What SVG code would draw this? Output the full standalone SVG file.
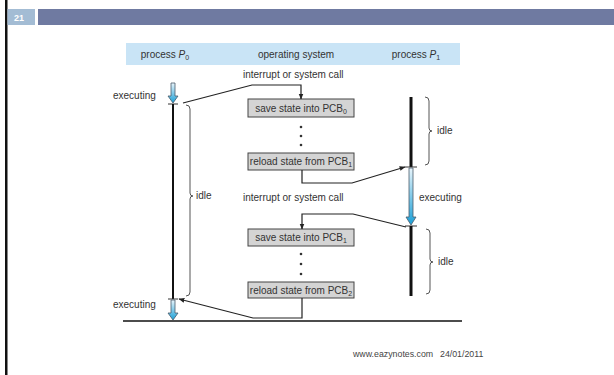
<svg xmlns="http://www.w3.org/2000/svg" width="614" height="375" viewBox="0 0 614 375">
<style>
  text { font-family: "Liberation Sans", Arial, sans-serif; font-size: 10px; fill: #333; }
  .hdr { fill: #333; }
  .box rect { fill: #d4d4d4; stroke: #444; stroke-width: 1; }
  .box text { text-anchor: middle; }
  .conn { fill: none; stroke: #222; stroke-width: 1.2; }
  .brace { fill: none; stroke: #555; stroke-width: 1; }
  .barrow { fill: url(#bg); stroke: #4a5a6a; stroke-width: 0.8; }
  .tick { stroke: #333; stroke-width: 1; }
  .dot { fill: #333; }
  .foot { font-size: 8.8px; fill: #444; }
</style>
<defs>
  <linearGradient id="bg" x1="0" y1="0" x2="0" y2="1">
    <stop offset="0" stop-color="#e8f4fb"/>
    <stop offset="1" stop-color="#1a9fd6"/>
  </linearGradient>
  <marker id="ah" viewBox="0 0 10 10" refX="9" refY="5" markerWidth="6" markerHeight="6" orient="auto" markerUnits="userSpaceOnUse">
    <path d="M0,1 L10,5 L0,9 Z" fill="#222"/>
  </marker>
</defs>
<rect width="614" height="375" fill="#ffffff"/>
<!-- slide chrome -->
<rect x="5" y="0" width="2.5" height="375" fill="#111"/>
<rect x="7.5" y="9" width="27.5" height="16" fill="#a3bcd4"/>
<text x="14" y="21" style="font-size:9px;font-weight:bold;fill:#ffffff">21</text>
<rect x="38" y="9" width="576" height="16" fill="#6f7aa1"/>
<!-- column header band -->
<rect x="126" y="43" width="334" height="22" fill="#c9e4f6"/>
<text class="hdr" x="165" y="58" text-anchor="middle">process <tspan font-style="italic">P</tspan><tspan font-size="7" dy="2">0</tspan></text>
<text class="hdr" x="296" y="58" text-anchor="middle">operating system</text>
<text class="hdr" x="416" y="58" text-anchor="middle">process <tspan font-style="italic">P</tspan><tspan font-size="7" dy="2">1</tspan></text>
<!-- labels -->
<text x="243" y="78">interrupt or system call</text>
<text x="243" y="201">interrupt or system call</text>
<text x="113" y="99">executing</text>
<text x="113" y="308">executing</text>
<text x="419" y="201">executing</text>
<!-- process P0 -->
<g id="p0">
  <path class="barrow" d="M171,83 H175 V96 H178 L173,103 L168,96 H171 Z"/>
  <line class="tick" x1="168" y1="104" x2="178" y2="104"/>
  <line x1="173" y1="104" x2="173" y2="299" stroke="#111" stroke-width="2"/>
  <line class="tick" x1="168" y1="299" x2="178" y2="299"/>
  <path class="barrow" d="M171,300 H175 V313 H178 L173,320 L168,313 H171 Z"/>
  <path class="brace" d="M186,105 Q190,105 190,109 V193 Q190,196 193,196 Q190,196 190,199 V292 Q190,296 186,296"/>
  <text x="196" y="199">idle</text>
</g>
<!-- process P1 -->
<g id="p1">
  <line x1="411" y1="97" x2="411" y2="167" stroke="#111" stroke-width="3"/>
  <line class="tick" x1="405" y1="167" x2="417" y2="167"/>
  <path class="barrow" d="M409,168 H413 V217 H416 L411,225 L406,217 H409 Z"/>
  <line class="tick" x1="405" y1="226" x2="417" y2="226"/>
  <line x1="411" y1="226" x2="411" y2="296" stroke="#111" stroke-width="3"/>
  <path class="brace" d="M425,97 Q429,97 429,101 V128 Q429,131 432,131 Q429,131 429,134 V161 Q429,165 425,165"/>
  <text x="437" y="134">idle</text>
  <path class="brace" d="M426,229 Q430,229 430,233 V259 Q430,262 433,262 Q430,262 430,265 V290 Q430,294 426,294"/>
  <text x="438" y="265">idle</text>
</g>
<!-- OS boxes -->
<g id="save0" class="box">
  <rect x="248" y="99" width="106" height="18"/>
  <text x="301" y="111.5">save state into PCB<tspan font-size="7" dy="2">0</tspan></text>
</g>
<g id="reload1" class="box">
  <rect x="248" y="153" width="106" height="17"/>
  <text x="301" y="165">reload state from PCB<tspan font-size="7" dy="2">1</tspan></text>
</g>
<g id="save1" class="box">
  <rect x="248" y="229" width="106" height="17"/>
  <text x="301" y="241">save state into PCB<tspan font-size="7" dy="2">1</tspan></text>
</g>
<g id="reload2" class="box">
  <rect x="248" y="282" width="106" height="16"/>
  <text x="301" y="293.5">reload state from PCB<tspan font-size="7" dy="2">2</tspan></text>
</g>
<g id="dots">
  <circle class="dot" cx="301" cy="127" r="1.3"/>
  <circle class="dot" cx="301" cy="136" r="1.3"/>
  <circle class="dot" cx="301" cy="145" r="1.3"/>
  <circle class="dot" cx="301" cy="254" r="1.3"/>
  <circle class="dot" cx="301" cy="264" r="1.3"/>
  <circle class="dot" cx="301" cy="274" r="1.3"/>
</g>
<!-- connectors -->
<g id="connectors">
  <polyline class="conn" points="183,103 252,85 301,85 301,99" marker-end="url(#ah)"/>
  <polyline class="conn" points="302,170 302,183 352,183 405,167" marker-end="url(#ah)"/>
  <polyline class="conn" points="406,227 353,214 302,214 302,229" marker-end="url(#ah)"/>
  <polyline class="conn" points="302,298 302,318 253,318 179,299" marker-end="url(#ah)"/>
</g>
<!-- baseline -->
<line x1="123" y1="321" x2="462" y2="321" stroke="#111" stroke-width="1.5"/>
<!-- footer -->
<text class="foot" x="353" y="357">www.eazynotes.com</text>
<text class="foot" x="440" y="357">24/01/2011</text>
</svg>
